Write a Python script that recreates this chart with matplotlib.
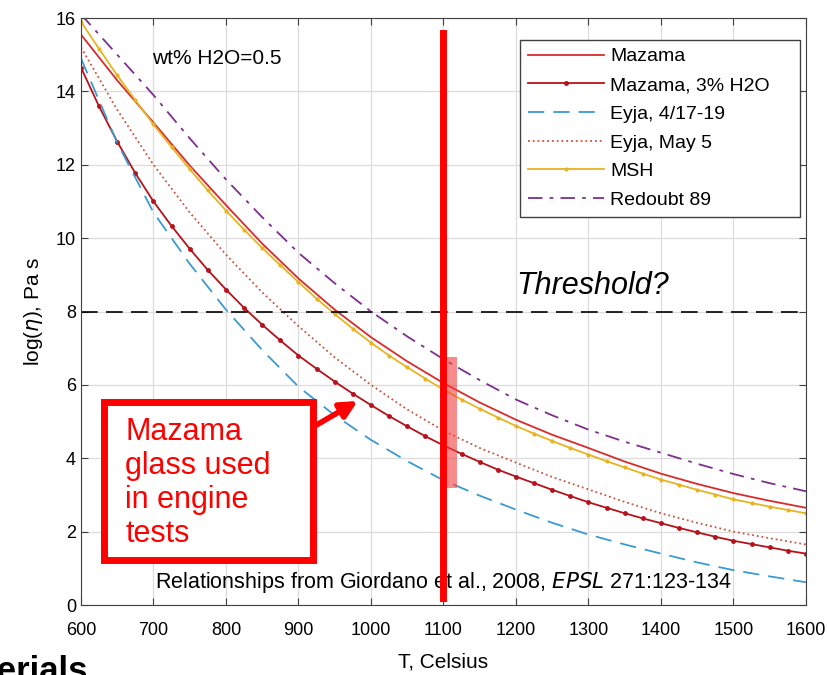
import matplotlib
matplotlib.use('Agg')
import matplotlib.pyplot as plt
from matplotlib.patches import Rectangle, FancyArrowPatch

plt.rcParams['font.family'] = ['Liberation Sans', 'DejaVu Sans']

# temperatures (Celsius)
T25 = [600, 625, 650, 675, 700, 725, 750, 775, 800, 825, 850, 875, 900, 925, 950, 975,
       1000, 1025, 1050, 1075, 1100, 1125, 1150, 1175, 1200, 1225, 1250, 1275, 1300,
       1325, 1350, 1375, 1400, 1425, 1450, 1475, 1500, 1525, 1550, 1575, 1600]
T50 = [600, 650, 700, 750, 800, 850, 900, 950, 1000, 1050, 1100, 1150, 1200, 1250,
       1300, 1350, 1400, 1450, 1500, 1550, 1600]

# log viscosity (Pa s)
mazama = [15.55, 14.3, 13.15, 11.98, 10.9, 9.85, 8.9, 8.05, 7.3, 6.64, 6.05, 5.52, 5.05,
          4.64, 4.28, 3.91, 3.58, 3.3, 3.05, 2.84, 2.65]
mazama_3 = [14.65, 13.59, 12.63, 11.77, 11.0, 10.33, 9.71, 9.13, 8.6, 8.1, 7.64, 7.21, 6.8,
            6.44, 6.09, 5.76, 5.45, 5.15, 4.87, 4.6, 4.35, 4.12, 3.9, 3.69, 3.5, 3.32,
            3.14, 2.97, 2.8, 2.65, 2.5, 2.36, 2.23, 2.1, 1.98, 1.86, 1.75, 1.66, 1.57,
            1.48, 1.4]
eyja_apr = [14.9, 12.6, 10.7, 9.3, 8.05, 6.95, 5.95, 5.17, 4.5, 3.92, 3.4, 2.98, 2.6, 2.24,
            1.92, 1.65, 1.4, 1.16, 0.95, 0.78, 0.62]
eyja_may = [15.2, 13.5, 12.0, 10.7, 9.55, 8.52, 7.6, 6.75, 6.0, 5.33, 4.75, 4.28, 3.88,
            3.49, 3.15, 2.81, 2.5, 2.24, 2.0, 1.82, 1.65]
msh = [15.9, 15.16, 14.44, 13.76, 13.1, 12.48, 11.88, 11.3, 10.75, 10.23, 9.73, 9.26, 8.8,
       8.35, 7.93, 7.53, 7.15, 6.8, 6.48, 6.17, 5.87, 5.6, 5.35, 5.11, 4.88, 4.67, 4.47,
       4.28, 4.1, 3.92, 3.75, 3.58, 3.42, 3.28, 3.14, 3.01, 2.88, 2.78, 2.68, 2.59, 2.5]
redoubt = [16.1, 15.0, 13.9, 12.72, 11.6, 10.57, 9.6, 8.77, 8.0, 7.32, 6.7, 6.13, 5.6,
           5.17, 4.78, 4.45, 4.15, 3.85, 3.57, 3.32, 3.1]

threshold = 8
T_engine = 1100

fig = plt.figure(figsize=(8.27, 6.75), dpi=100)
ax = fig.add_axes([0.0979, 0.1037, 0.8767, 0.8696])

ax.plot(T50, mazama, '-', color='#d92b2b', lw=1.3, label='Mazama')
ax.plot(T25, mazama_3, '.-', color='#b5121b', lw=1.3, ms=5, label='Mazama, 3% H2O')
ax.plot(T50, eyja_apr, '--', color='#3b9ad0', lw=1.3, dashes=(9, 5), label='Eyja, 4/17-19')
ax.plot(T50, eyja_may, ':', color='#c8553d', lw=1.3, label='Eyja, May 5')
ax.plot(T25, msh, '.-', color='#e8b321', lw=1.3, ms=4, label='MSH')
ax.plot(T50, redoubt, '-.', color='#7e2f8e', lw=1.3, dashes=(8, 4, 2, 4), label='Redoubt 89')

ax.axhline(threshold, color='black', lw=1.2, dashes=(10, 5))
ax.text(1200, 8.7, 'Threshold?', fontsize=22, style='italic', va='center', ha='left')
ax.text(698, 14.9, 'wt% H2O=0.5', fontsize=15, va='center')
ax.text(702, 0.6, 'Relationships from Giordano et al., 2008, $\\mathit{EPSL}$ 271:123-134',
        fontsize=15.5, va='center')

ax.set_xlim(600, 1600)
ax.set_ylim(0, 16)
ax.set_xticks(range(600, 1601, 100))
ax.set_yticks(range(0, 17, 2))
ax.grid(True, color='#dcdcdc', lw=0.9)
ax.set_axisbelow(True)
ax.tick_params(direction='in', top=True, right=True, labelsize=13, length=5, color='#404040')
ax.tick_params(axis='x', pad=12)
for s in ax.spines.values():
    s.set_color('#404040')
ax.set_xlabel('T, Celsius', fontsize=15, labelpad=10)
ax.set_ylabel('log($\\eta$), Pa s', fontsize=15, labelpad=8)

leg = ax.legend(loc='upper left', bbox_to_anchor=(0.6055, 0.5, 0.386, 0.4625), mode='expand',
                fontsize=14, handlelength=3.9, handletextpad=0.35, labelspacing=0.57,
                fancybox=False, framealpha=1, borderpad=0.4, borderaxespad=0)
leg.get_frame().set_edgecolor('#404040')

# slide annotations
ax.plot([T_engine, T_engine], [0.2, 15.6], color='red', lw=5, clip_on=False, zorder=6)
ax.add_patch(Rectangle((1100, 3.2), 19, 3.56, color='#f04040', alpha=0.6, lw=0, zorder=5))
ax.add_patch(Rectangle((632, 1.23), 288, 4.3, facecolor='white', edgecolor='red', lw=5,
                       zorder=7))
ax.text(661, 5.12, 'Mazama\nglass used\nin engine\ntests', color='red', fontsize=22,
        va='top', ha='left', linespacing=1.17, zorder=8)
ax.add_artist(FancyArrowPatch((920, 4.85), (985, 5.6), arrowstyle='-|>', mutation_scale=25,
                              color='red', lw=4, zorder=8))

fig.text(-0.076, 0.03, 'Materials', fontsize=25, fontweight='bold', ha='left', va='top')

fig.savefig('out.png', dpi=100)
